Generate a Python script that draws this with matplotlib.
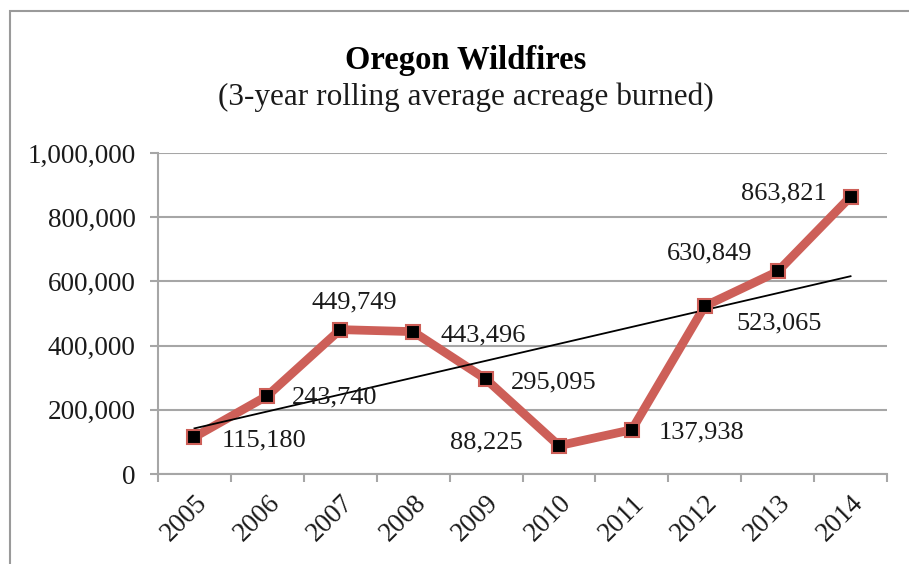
import matplotlib
matplotlib.use("Agg")
import matplotlib.pyplot as plt
import numpy as np
from matplotlib.patches import Rectangle

years = ["2005", "2006", "2007", "2008", "2009", "2010", "2011", "2012", "2013", "2014"]
acres = [115180, 243740, 449749, 443496, 295095, 88225, 137938, 523065, 630849, 863821]
value_labels = ["115,180", "243,740", "449,749", "443,496", "295,095",
                "88,225", "137,938", "523,065", "630,849", "863,821"]
y_ticks = [0, 200000, 400000, 600000, 800000, 1000000]
y_tick_labels = ["0", "200,000", "400,000", "600,000", "800,000", "1,000,000"]

# label placement (offset in pixels, alignment)
label_pos = [
    (27, -3, "left", "center"),
    (25, -2, "left", "center"),
    (14, 27, "center", "center"),
    (27, -4, "left", "center"),
    (25, -3, "left", "center"),
    (-36, 3, "right", "center"),
    (27, -3, "left", "center"),
    (32, -17, "left", "center"),
    (-25, 18, "right", "center"),
    (-24, 3, "right", "center"),
]

FONT = "Liberation Serif"
plt.rcParams["font.family"] = [FONT, "DejaVu Serif"]

W, H = 909, 564
fig = plt.figure(figsize=(W / 100, H / 100), dpi=100)
fig.patch.set_facecolor("white")

# outer border
fig.patches.append(Rectangle((10 / W, 1 - 575 / H), 920 / W, 564 / H,
                             transform=fig.transFigure, fill=False,
                             edgecolor="#9a9a9a", linewidth=1.5))

ax = fig.add_axes([158 / W, 1 - 474 / H, (887 - 158) / W, (474 - 153) / H])
x = np.arange(len(years))
grid_c = "#a6a6a6"
FS = 19.5

ax.set_xlim(-0.5, len(years) - 0.5)
ax.set_ylim(0, 1000000)
ax.set_yticks(y_ticks)
ax.set_yticklabels(y_tick_labels, fontsize=FS, color="#1a1a1a")
ax.set_xticks(x)
ax.set_xticklabels(years, fontsize=FS, rotation=45, ha="right",
                   rotation_mode="anchor", color="#1a1a1a")
ax.set_xticks(np.arange(-0.5, len(years)), minor=True)
ax.tick_params(axis="x", which="major", length=0, pad=12)
ax.tick_params(axis="x", which="minor", length=6, width=1.5, color=grid_c)
ax.tick_params(axis="y", length=6, width=1.5, color=grid_c, pad=10)

for s in ["top", "right"]:
    ax.spines[s].set_visible(False)
for s in ["left", "bottom"]:
    ax.spines[s].set_color(grid_c)
    ax.spines[s].set_linewidth(1.5)
ax.yaxis.grid(True, color=grid_c, linewidth=1.5)
ax.set_axisbelow(True)

# data line
ax.plot(x, acres, color="#cd5f58", linewidth=6.3, zorder=3, solid_joinstyle="miter")
ax.plot(x, acres, linestyle="none", marker="s", markersize=10,
        markerfacecolor="black", markeredgecolor="#cd5f58", markeredgewidth=1.5, zorder=5)

# linear trendline
coef = np.polyfit(x, acres, 1)
ax.plot(x, np.polyval(coef, x), color="black", linewidth=1.3, zorder=4)

for xi, yi, lab, (dx, dy, ha, va) in zip(x, acres, value_labels, label_pos):
    ax.annotate(lab, (xi, yi), xytext=(dx * 0.72, dy * 0.72), textcoords="offset points",
                ha=ha, va=va, fontsize=FS - 0.5, color="#1a1a1a", zorder=6)

fig.text(466 / W, 1 - 60 / H, "Oregon Wildfires", ha="center", va="center",
         fontsize=23.5, fontweight="bold", color="black")
fig.text(466 / W, 1 - 97 / H, "(3-year rolling average acreage burned)", ha="center",
         va="center", fontsize=22.5, color="#1a1a1a")

fig.savefig("out.png", dpi=100)
